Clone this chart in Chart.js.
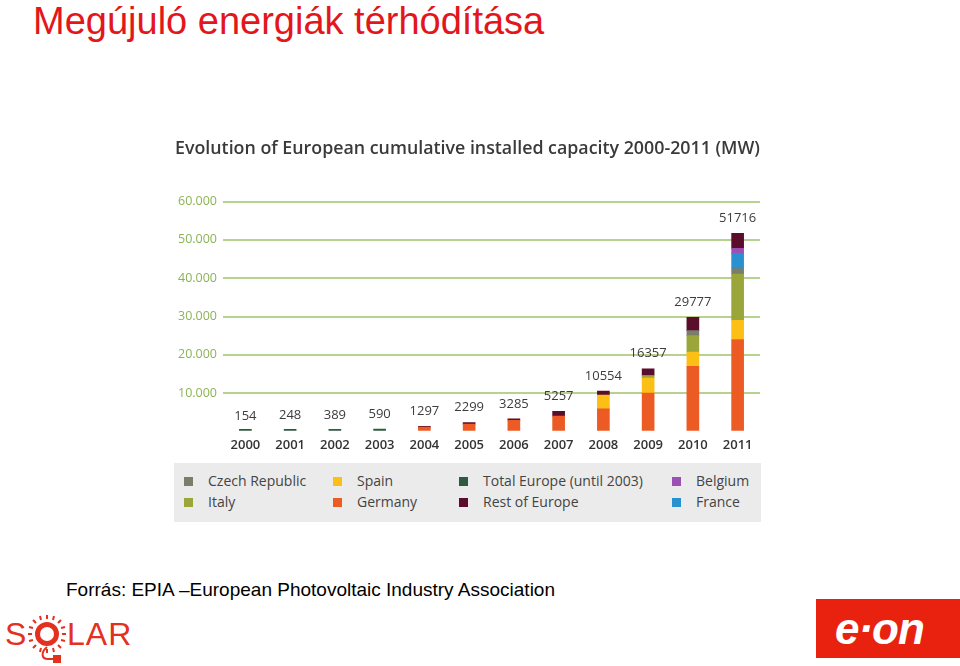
<!DOCTYPE html>
<html>
<head>
<meta charset="utf-8">
<script src="https://cdn.jsdelivr.net/npm/chart.js@4"></script>
<style>
  body { margin: 0; width: 960px; height: 666px; background: #fff; position: relative; overflow: hidden; font-family: "Liberation Sans", Arial, sans-serif; }
  #pageTitle { position: absolute; left: 33px; top: 2px; font-size: 38px; line-height: 1; color: #e3161b; white-space: nowrap; }
  #chartBox { position: absolute; left: 170px; top: 128px; width: 592px; height: 337px; }
  #legend { position: absolute; left: 174px; top: 463px; width: 587px; height: 59px; background: #ebebeb; }
  .item { position: absolute; height: 20px; line-height: 20px; font-family: "Open Sans", sans-serif; font-size: 14px; color: #444; white-space: nowrap; }
  .item span { position: absolute; left: 0; top: 6px; width: 9px; height: 9px; }
  .item b { font-weight: normal; position: absolute; left: 24px; top: 0; }
  #source { position: absolute; left: 66px; top: 580px; font-size: 19px; line-height: 1; color: #000; white-space: nowrap; }
  #solar { position: absolute; left: 3px; top: 612px; height: 50px; color: #e3301f; font-family: "Liberation Sans", Arial, sans-serif; font-size: 32px; }
  #eon { position: absolute; left: 816px; top: 599px; width: 144px; height: 59px; background: #e8220f; }
  #eon div { position: absolute; left: 19px; top: 5px; color: #fff; font: italic bold 44px "Liberation Sans", Arial, sans-serif; letter-spacing: -1px; }
</style>
</head>
<body>
<div id="pageTitle">Megújuló energiák térhódítása</div>
<div id="chartBox"><canvas id="myChart"></canvas></div>
<div id="legend"></div>
<div id="source">Forrás: EPIA –European Photovoltaic Industry Association</div>
<div id="solar">
  <span style="position:absolute;left:2px;top:4px;">S</span>
  <svg style="position:absolute;left:25px;top:0px;" width="40" height="54" viewBox="0 0 40 54">
    <g stroke="#e3301f" stroke-width="2" fill="none">
      <circle cx="19" cy="22" r="11" fill="#e3301f"/>
      <circle cx="19" cy="22" r="7" fill="#fff" stroke="none"/>
      <path d="M19 7 L19 3 M19 37 L19 41 M4 22 L0 22 M34 22 L38 22 M8 11 L5 8 M30 11 L33 8 M8 33 L5 36 M30 33 L33 36 M13 8 L12 4 M25 8 L26 4 M13 36 L12 40 M25 36 L26 40 M5 16 L1 15 M33 16 L37 15 M5 28 L1 29 M33 28 L37 29"/>
      <path d="M19 35 C12 41 14 47 20 47 L26 47"/>
      <rect x="26" y="44" width="6" height="6" fill="#e3301f"/>
    </g>
  </svg>
  <span style="position:absolute;left:64px;top:4px;letter-spacing:1px;">LAR</span>
</div>
<div id="eon"><div>e·on</div></div>

<script>
const years = ['2000','2001','2002','2003','2004','2005','2006','2007','2008','2009','2010','2011'];
const totals = [154, 248, 389, 590, 1297, 2299, 3285, 5257, 10554, 16357, 29777, 51716];

const totalEurope = [154, 248, 389, 590, null, null, null, null, null, null, null, null];
const germany = [null, null, null, null, 1100, 1900, 2900, 4000, 5900, 10000, 17000, 24000];
const spain = [null, null, null, null, null, null, null, null, 3600, 3900, 3700, 5000];
const italy = [null, null, null, null, null, null, null, null, null, 700, 4300, 12100];
const czech = [null, null, null, null, null, null, null, null, null, null, 1300, 1400];
const france = [null, null, null, null, null, null, null, null, null, null, null, 3900];
const belgium = [null, null, null, null, null, null, null, null, null, null, null, 1400];
const restOfEurope = [null, null, null, null, 197, 399, 385, 1257, 1054, 1757, 3477, 3916];

const yTicks = [0, 10000, 20000, 30000, 40000, 50000, 60000];

const colors = {
  'Czech Republic': '#7b7d6b',
  'Italy': '#9aa53a',
  'Spain': '#fbbf16',
  'Germany': '#ec5b24',
  'Total Europe (until 2003)': '#2d5b3f',
  'Rest of Europe': '#5b0d2c',
  'Belgium': '#9b51b3',
  'France': '#2a91d0'
};

// legend columns, top row then bottom row
const legendCols = [
  ['Czech Republic', 'Italy'],
  ['Spain', 'Germany'],
  ['Total Europe (until 2003)', 'Rest of Europe'],
  ['Belgium', 'France']
];

function makeSet(label, data, extra){
  return Object.assign({
    label: label,
    data: data,
    backgroundColor: colors[label],
    borderWidth: 0,
    barThickness: 12
  }, extra || {});
}

const datasets = [
  makeSet('Total Europe (until 2003)', totalEurope, { minBarLength: 2 }),
  makeSet('Germany', germany),
  makeSet('Spain', spain),
  makeSet('Italy', italy),
  makeSet('Czech Republic', czech),
  makeSet('France', france),
  makeSet('Belgium', belgium),
  makeSet('Rest of Europe', restOfEurope)
];

const totalLabels = {
  id: 'totalLabels',
  afterDatasetsDraw(chart){
    const ctx = chart.ctx;
    const xs = chart.scales.x, ys = chart.scales.y;
    ctx.save();
    ctx.font = '13px "Open Sans", sans-serif';
    ctx.fillStyle = '#3c3c3c';
    ctx.textAlign = 'center';
    ctx.textBaseline = 'middle';
    totals.forEach((t, i) => {
      ctx.fillText(String(t), xs.getPixelForValue(i), ys.getPixelForValue(t) - 15);
    });
    ctx.restore();
  }
};

new Chart(document.getElementById('myChart'), {
  type: 'bar',
  data: { labels: years, datasets: datasets },
  options: {
    responsive: true,
    maintainAspectRatio: false,
    animation: false,
    layout: { padding: { left: 5, right: 2, bottom: 6 } },
    plugins: {
      legend: { display: false },
      tooltip: { enabled: false },
      title: {
        display: true,
        text: 'Evolution of European cumulative installed capacity 2000-2011 (MW)',
        align: 'start',
        color: '#3a3a3a',
        font: { family: 'Open Sans', size: 18, weight: '600' },
        padding: { top: 10, bottom: 42 }
      }
    },
    scales: {
      x: {
        stacked: true,
        grid: { display: false, drawTicks: false },
        border: { display: false },
        ticks: { color: '#333', padding: 6, font: { family: 'Open Sans', size: 13, weight: '600' } }
      },
      y: {
        stacked: true,
        min: 0,
        max: 60000,
        afterBuildTicks: scale => { scale.ticks = yTicks.map(v => ({ value: v })); },
        afterFit: scale => { scale.width = 48; },
        grid: {
          drawTicks: false,
          lineWidth: 2,
          color: c => c.tick && c.tick.value === 0 ? 'rgba(0,0,0,0)' : '#b7d18f'
        },
        border: { display: false },
        ticks: {
          color: '#8cb356',
          padding: 6,
          font: { family: 'Open Sans', size: 12.5 },
          callback: v => v === 0 ? '' : v.toLocaleString('de-DE')
        }
      }
    }
  },
  plugins: [totalLabels]
});

const legendEl = document.getElementById('legend');
const colLeft = [10, 159, 285, 498];
legendCols.forEach((col, ci) => {
  col.forEach((name, ri) => {
    const d = document.createElement('div');
    d.className = 'item';
    d.style.left = colLeft[ci] + 'px';
    d.style.top = (8 + ri * 21) + 'px';
    d.innerHTML = '<span style="background:' + colors[name] + '"></span><b>' + name + '</b>';
    legendEl.appendChild(d);
  });
});
</script>
</body>
</html>
